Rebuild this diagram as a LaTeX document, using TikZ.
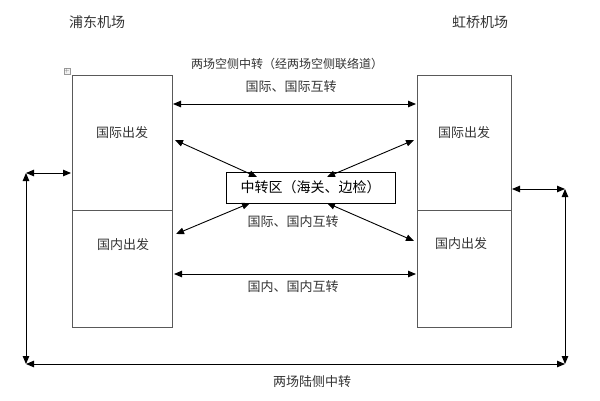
\documentclass[tikz,border=0pt]{standalone}
\usepackage{fontspec}
\newfontfamily\cjk{Noto Sans CJK SC}
\usetikzlibrary{arrows.meta}
\begin{document}
\begin{tikzpicture}[x=1pt,y=-1pt,
  lbl/.style={font=\cjk\fontsize{13}{15}\selectfont, text=black!80, inner sep=0pt},
  boxln/.style={draw=black!65, line width=0.8pt},
  arr/.style={line width=0.9pt, {Triangle[length=8pt,width=6.5pt]}-{Triangle[length=8pt,width=6.5pt]}}]
\useasboundingbox (0,0) rectangle (600,400);
% boxes
\node[boxln, minimum width=100pt, minimum height=135pt, inner sep=0pt] (Lint) at (122,142.5) {};
\node[boxln, minimum width=100pt, minimum height=117pt, inner sep=0pt] (Ldom) at (122,268.5) {};
\node[boxln, minimum width=94pt, minimum height=135pt, inner sep=0pt] (Rint) at (464,142.5) {};
\node[boxln, minimum width=94pt, minimum height=117pt, inner sep=0pt] (Rdom) at (464,268.5) {};
\node[draw=black, line width=1pt, minimum width=169pt, minimum height=31pt, inner sep=0pt,
  font=\cjk\fontsize{14}{16}\selectfont] (C) at (310.5,187.5) {中转区（海关、边检）};
% table handle
\node[draw=black!40, fill=black!5, minimum size=6pt, inner sep=0pt, font=\fontsize{6}{6}\selectfont, text=black!60] (h) at (67,71) {+};
% labels
\node[lbl, font=\cjk\fontsize{14}{16}\selectfont] (t1) at (97,22) {浦东机场};
\node[lbl, font=\cjk\fontsize{14}{16}\selectfont] (t2) at (480,22) {虹桥机场};
\node[lbl, font=\cjk\fontsize{12}{14}\selectfont] (top) at (287,64) {两场空侧中转（经两场空侧联络道）};
\node[lbl] (l1) at (291,87) {国际、国际互转};
\node[lbl] (li) at (122,133) {国际出发};
\node[lbl] (ri) at (464,133) {国际出发};
\node[lbl] (ld) at (123,245) {国内出发};
\node[lbl] (rd) at (461,244) {国内出发};
\node[lbl] (l2) at (293,222) {国际、国内互转};
\node[lbl] (l3) at (293,287) {国内、国内互转};
\node[lbl] (l4) at (312,382) {两场陆侧中转};
% coordinates
\coordinate (a1) at (173,104); \coordinate (a2) at (416,104);
\coordinate (b1) at (175,140); \coordinate (b2) at (257,177);
\coordinate (c1) at (414,140); \coordinate (c2) at (327,177);
\coordinate (d1) at (176,234); \coordinate (d2) at (250,203);
\coordinate (e1) at (414,241); \coordinate (e2) at (327,203);
\coordinate (f1) at (174,274); \coordinate (f2) at (416,274);
\coordinate (g0) at (71,173); \coordinate (g1) at (26,173); \coordinate (g2) at (26,364);
\coordinate (k0) at (512,189); \coordinate (k1) at (565,189); \coordinate (k2) at (565,364);
% arrows
\draw[arr] (a1) -- (a2);
\draw[arr] (b1) -- (b2);
\draw[arr] (c1) -- (c2);
\draw[arr] (d1) -- (d2);
\draw[arr] (e1) -- (e2);
\draw[arr] (f1) -- (f2);
\draw[arr] (g0) -- (g1);
\draw[arr] (g1) -- (g2);
\draw[arr] (g2) -- (k2);
\draw[arr] (k0) -- (k1);
\draw[arr] (k1) -- (k2);
\end{tikzpicture}
\end{document}
